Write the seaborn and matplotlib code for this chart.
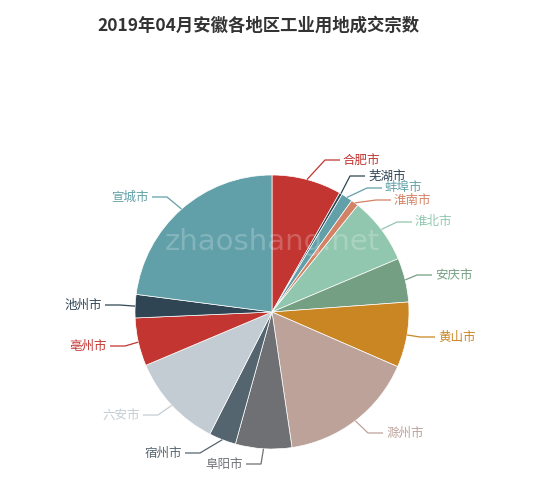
import numpy as np
import matplotlib
matplotlib.use("Agg")
import matplotlib.pyplot as plt
import seaborn as sns

# data (clockwise from 12 o'clock)
cities = ["合肥市", "芜湖市", "蚌埠市", "淮南市", "淮北市", "安庆市", "黄山市",
          "滁州市", "阜阳市", "宿州市", "六安市", "亳州市", "池州市", "宣城市"]
counts = [29.6, 1.2, 4.8, 3.2, 28.3, 18.7, 27.7, 58.1, 23.9, 11.5, 40.1, 20.4, 9.9, 82.6]

TITLE = "2019年04月安徽各地区工业用地成交宗数"

# echarts default palette
palette = ["#c23531", "#2f4554", "#61a0a8", "#d48265", "#91c7ae", "#749f83",
           "#ca8622", "#bda29a", "#6e7074", "#546570", "#c4ccd3"]
colors = [palette[i % len(palette)] for i in range(len(cities))]

# label elbow points in pixel coords (x, y from top)
elbows = {
    "合肥市": (325, 160), "芜湖市": (350, 176), "蚌埠市": (367, 188),
    "淮南市": (376, 200), "淮北市": (397, 222), "安庆市": (417, 275),
    "黄山市": (420, 337), "滁州市": (368, 433), "阜阳市": (261, 464),
    "宿州市": (200, 453), "六安市": (158, 415), "亳州市": (125, 346),
    "池州市": (120, 305), "宣城市": (167, 197),
}

W, H = 550, 490
CX, CY, R = 272, 312, 137

sns.set_theme(style="white")
plt.rcParams["font.family"] = ["Noto Sans CJK SC", "DejaVu Sans"]

fig = plt.figure(figsize=(W / 100, H / 100), dpi=100)
ax = fig.add_axes([0, 0, 1, 1])

wedges, _ = ax.pie(counts, colors=colors, startangle=90, counterclock=False,
                   center=(CX, H - CY), radius=R,
                   wedgeprops=dict(edgecolor="white", linewidth=0.5))

ax.set_xlim(0, W)
ax.set_ylim(0, H)
ax.set_aspect("equal")
ax.axis("off")

for w, name, col in zip(wedges, cities, colors):
    mid = np.deg2rad((w.theta1 + w.theta2) / 2)
    sx, sy = CX + R * np.cos(mid), (H - CY) + R * np.sin(mid)
    ex, ey = elbows[name]
    ey = H - ey
    side = 1 if ex >= CX else -1
    hx = ex + side * 15
    ax.plot([sx, ex, hx], [sy, ey, ey], color=col, lw=0.9, solid_capstyle="butt")
    ax.text(hx + side * 3, ey, name, color=col, fontsize=9,
            ha="left" if side > 0 else "right", va="center")

# watermark
ax.text(CX, H - 242, "zhaoshang.net", color="white", alpha=0.22, fontsize=21,
        ha="center", va="center", family="DejaVu Sans")

fig.text(258 / W, 1 - 26 / H, TITLE, ha="center", va="center",
         fontsize=12.5, fontweight="bold", color="#333333")

fig.savefig("out.png", dpi=100)
